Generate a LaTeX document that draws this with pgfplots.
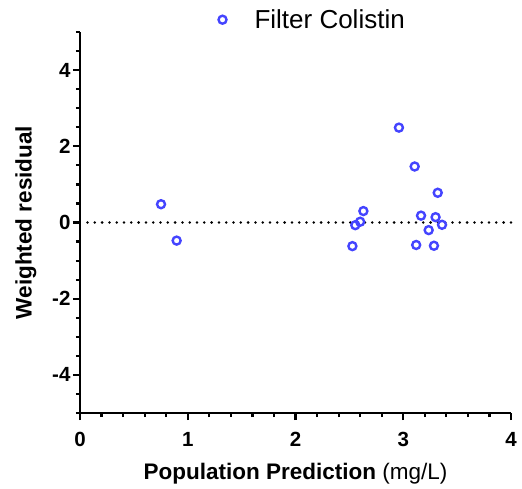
\documentclass[border=0pt]{standalone}
\usepackage{pgfplots}
\pgfplotsset{compat=1.18}
\usepackage{fontspec}
\setmainfont{Liberation Sans}
\definecolor{prismblue}{RGB}{68,68,255}

\begin{document}
\begin{tikzpicture}
\begin{axis}[
    scale only axis,
    width=431pt, height=381pt,
    xmin=0, xmax=4, ymin=-5, ymax=5,
    axis lines=left,
    axis line style={-, line width=2.8pt},
    every tick/.style={black, line width=2.2pt},
    tick align=outside,
    major tick length=7pt,
    minor tick length=4pt,
    xtick={0,1,2,3,4},
    minor xtick={0.2,0.4,...,3.9},
    ytick={-4,-2,0,2,4},
    yticklabels={-4,-2,0,2,4},
    xticklabels={0,1,2,3,4},
    minor ytick={-5,-4.5,...,5},
    tick label style={font=\fontsize{20.5}{22}\selectfont\bfseries},
    xticklabel style={yshift=-9pt},
    yticklabel style={xshift=1pt},
    xlabel={\textbf{Population Prediction} (mg/L)},
    ylabel={\textbf{Weighted residual}},
    xlabel style={yshift=-9pt},
    ylabel style={yshift=9pt},
    label style={font=\fontsize{22.5}{26}\selectfont},
    legend style={draw=none, fill=none, at={(rel axis cs:0.314,1.07)}, anchor=north west,
        font=\fontsize{26}{28}\selectfont, legend cell align=left},
    clip=false,
]
\addplot[only marks, mark=o, mark size=4pt, prismblue, mark options={line width=2.4pt}]
coordinates {
(0.752,0.48) (0.897,-0.475) (2.528,-0.62) (2.555,-0.07) (2.600,0.02)
(2.630,0.30) (2.960,2.49) (3.106,1.47) (3.320,0.78) (3.165,0.18)
(3.300,0.14) (3.360,-0.06) (3.236,-0.20) (3.120,-0.59) (3.285,-0.61)
};
\addlegendentry{\hspace*{26pt}Filter Colistin}
\addplot[black, line width=2.8pt, line cap=round, dash pattern=on 0pt off 7.3pt, forget plot]
coordinates {(0.07,0) (4,0)};
\end{axis}
\path[use as bounding box] (-80pt,-75pt) rectangle (442pt,413pt);
\end{tikzpicture}
\end{document}
